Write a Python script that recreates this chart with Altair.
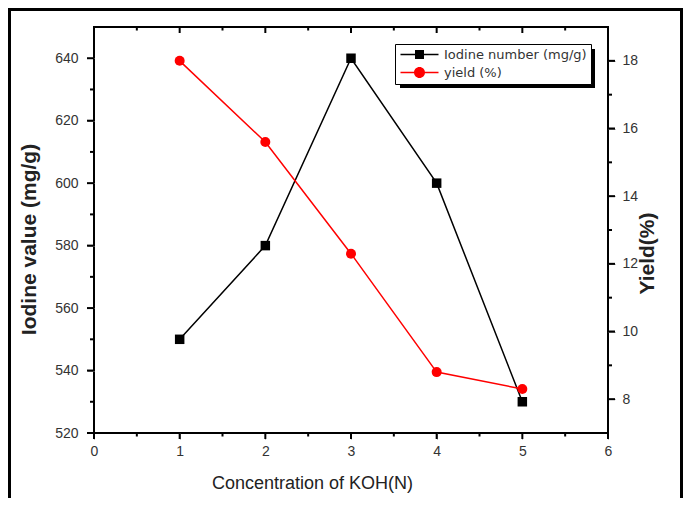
import altair as alt
import pandas as pd

# ---- data ----
conc = [1, 2, 3, 4, 5]
iodine = [550, 580, 640, 600, 530]
yield_pct = [18.0, 15.6, 12.3, 8.8, 8.3]
series_names = ["Iodine number (mg/g)", "yield (%)"]
series_colors = ["#000000", "#ff0000"]
x_major = [0, 1, 2, 3, 4, 5, 6]
x_minor = [0.5, 1.5, 2.5, 3.5, 4.5, 5.5]
left_major = [520, 540, 560, 580, 600, 620, 640]
left_minor = [530, 550, 570, 590, 610, 630]
right_major = [8, 10, 12, 14, 16, 18]
right_minor = [9, 11, 13, 15, 17]

W, H = 514, 406
FONT = "Liberation Sans"

df = pd.DataFrame({"conc": conc, "iodine": iodine, "yield": yield_pct})
legend_df = pd.DataFrame({"series": series_names})
frame_df = pd.DataFrame({"a": [0]})

x_scale = alt.Scale(domain=[0, 6], nice=False, zero=False)
yl_scale = alt.Scale(domain=[520, 650], nice=False, zero=False)
yr_scale = alt.Scale(domain=[7, 19], nice=False, zero=False)

AX = dict(domain=False, grid=False, labelFlush=False)

# axes carry labels and titles
x_bottom_axis = alt.Axis(
    orient="bottom", values=x_major, format="d", tickSize=6, labelPadding=5,
    titleX=218, titleY=50, titleAlign="center", titleBaseline="middle",
    titleFontSize=18, titleFontWeight="normal", **AX,
)
left_axis = alt.Axis(
    orient="left", values=left_major, format="d", tickSize=7, labelPadding=9,
    titleX=-65, titleY=212, titleAngle=270, titleAlign="center",
    titleBaseline="middle", titleFontSize=21, titleFontWeight="bold", **AX,
)
right_axis = alt.Axis(
    orient="right", values=right_major, format="d", tickSize=7, labelPadding=7,
    titleX=39, titleY=226, titleAngle=270, titleAlign="center",
    titleBaseline="middle", titleFontSize=21, titleFontWeight="bold", **AX,
)

base = alt.Chart(df)

line_iod = base.mark_line(color=series_colors[0], strokeWidth=1.5).encode(
    x=alt.X("conc:Q", scale=x_scale, axis=x_bottom_axis, title="Concentration of KOH(N)"),
    y=alt.Y("iodine:Q", scale=yl_scale, axis=left_axis, title="Iodine value (mg/g)"),
)
pts_iod = base.mark_point(shape="square", filled=True, size=90, opacity=1,
                          color=series_colors[0]).encode(
    x=alt.X("conc:Q", scale=x_scale, axis=None),
    y=alt.Y("iodine:Q", scale=yl_scale, axis=None),
)
line_yld = base.mark_line(color=series_colors[1], strokeWidth=1.5).encode(
    x=alt.X("conc:Q", scale=x_scale, axis=None),
    y=alt.Y("yield:Q", scale=yr_scale, axis=right_axis, title="Yield(%)"),
)
pts_yld = base.mark_point(shape="circle", filled=True, size=100, opacity=1,
                          color=series_colors[1]).encode(
    x=alt.X("conc:Q", scale=x_scale, axis=None),
    y=alt.Y("yield:Q", scale=yr_scale, axis=None),
)


# tick marks drawn through the same scales
def x_ticks(values, y0, y1):
    return alt.Chart(pd.DataFrame({"v": values})).mark_rule(color="black", strokeWidth=2).encode(
        x=alt.X("v:Q", scale=x_scale, axis=None), y=alt.value(y0), y2=alt.value(y1))


def y_ticks(values, scale, x0, x1):
    return alt.Chart(pd.DataFrame({"v": values})).mark_rule(color="black", strokeWidth=2).encode(
        y=alt.Y("v:Q", scale=scale, axis=None), x=alt.value(x0), x2=alt.value(x1))


tick_layers = [
    x_ticks(x_major, H, H + 6), x_ticks(x_minor, H, H + 3.5),
    x_ticks(x_major, 0, 6), x_ticks(x_minor, 0, 3.5),
    y_ticks(left_major, yl_scale, -7, 0), y_ticks(left_minor, yl_scale, -4, 0),
    y_ticks(right_major, yr_scale, W, W + 7), y_ticks(right_minor, yr_scale, W, W + 4),
]

sq_path = "M-3.8,-0.14H3.8V0.14H-3.8Z M-0.9,-0.9H0.9V0.9H-0.9Z"
ci_path = "M-3.8,-0.14H3.8V0.14H-3.8Z M-1.1,0A1.1,1.1 0 1,1 1.1,0A1.1,1.1 0 1,1 -1.1,0Z"

legend_spec = alt.Legend(
    orient="none", legendX=301, legendY=17, title=None,
    fillColor="white", strokeColor="black", padding=4,
    labelFont="DejaVu Sans", labelFontSize=13, labelColor="#333333",
    symbolSize=100, symbolOffset=14, labelOffset=18, rowPadding=4,
    symbolStrokeWidth=0, symbolOpacity=1,
)
leg = alt.Chart(legend_df).mark_point(filled=True, opacity=1).encode(
    color=alt.Color("series:N", scale=alt.Scale(domain=series_names, range=series_colors),
                    legend=legend_spec),
    shape=alt.Shape("series:N", scale=alt.Scale(domain=series_names, range=[sq_path, ci_path]),
                    legend=legend_spec),
).transform_filter("false")

frame = alt.Chart(frame_df)
# drop shadow behind the legend box
leg_shadow = frame.mark_rect(color="black").encode(
    x=alt.value(306), x2=alt.value(501), y=alt.value(22), y2=alt.value(61))
fr_left = frame.mark_rule(color="black", strokeWidth=3).encode(
    x=alt.value(-84.5), y=alt.value(-17.5), y2=alt.value(471))
fr_right = frame.mark_rule(color="black", strokeWidth=3).encode(
    x=alt.value(587.5), y=alt.value(-17.5), y2=alt.value(471))
fr_top = frame.mark_rule(color="black", strokeWidth=3).encode(
    x=alt.value(-86), x2=alt.value(589), y=alt.value(-17.5))

chart = alt.layer(
    line_iod, pts_iod, line_yld, pts_yld, *tick_layers,
    leg_shadow, leg, fr_left, fr_right, fr_top
).resolve_scale(
    y="independent"
).resolve_axis(
    x="independent", y="independent"
).properties(
    width=W, height=H,
    padding={"left": 86, "top": 19, "right": 75, "bottom": 65},
    autosize="none",
).configure_view(
    stroke="black", strokeWidth=2
).configure_axis(
    labelFont=FONT, labelFontSize=14, labelColor="#333333",
    titleFont=FONT, titleColor="#222222",
)

chart.save("out.html", embed_options={"renderer": "svg", "actions": False})
